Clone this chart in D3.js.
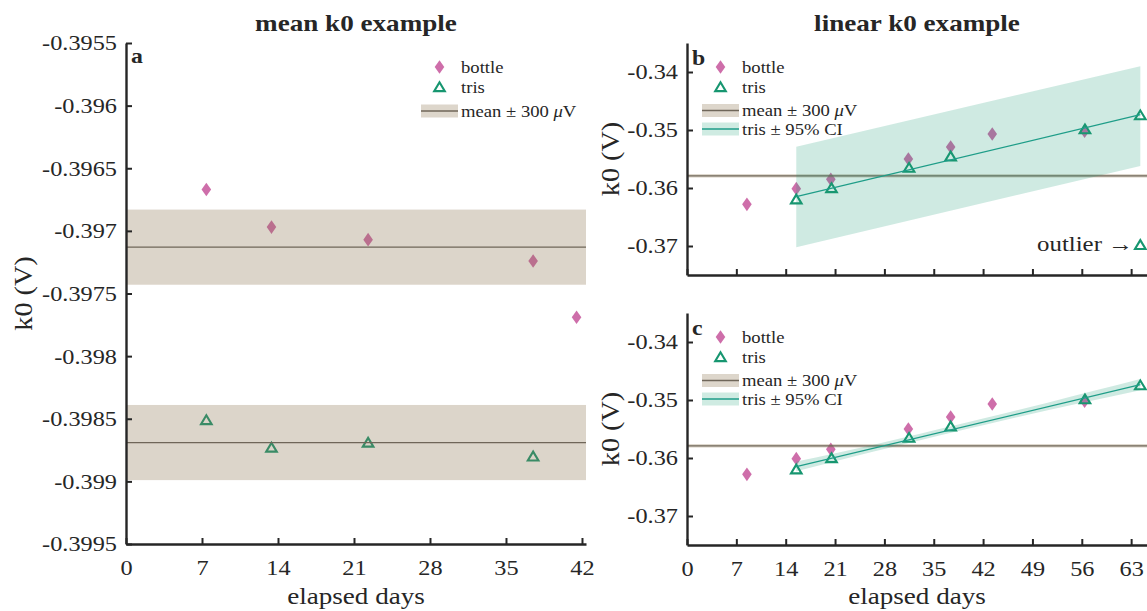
<!DOCTYPE html>
<html><head><meta charset="utf-8">
<script src="https://cdn.jsdelivr.net/npm/d3@7"></script>
<style>
body{margin:0;background:#fff}
svg{display:block}
text{font-family:"Liberation Serif","Times New Roman",Times,serif;fill:#262626}
</style>
</head><body><svg id="c" width="1147" height="611"></svg>
<script>
// ---------- data ----------
// panel a : mean k0 example
const aBottleDays = [7.4, 13.4, 22.3, 37.5, 41.5];
const aBottleK0   = [-0.39667, -0.39697, -0.39707, -0.39724, -0.39769];
const aTrisDays   = [7.4, 13.4, 22.3, 37.5];
const aTrisK0     = [-0.39851, -0.39873, -0.39869, -0.39880];
const aMeans      = [-0.39713, -0.39869];
const bandHalf    = 0.0003;               // ± 300 µV
const aXTicks     = [0, 7, 14, 21, 28, 35, 42];
const aYTicks     = [-0.3955, -0.396, -0.3965, -0.397, -0.3975, -0.398, -0.3985, -0.399, -0.3995];
const aYTickLabels= ["-0.3955", "-0.396", "-0.3965", "-0.397", "-0.3975", "-0.398", "-0.3985", "-0.399", "-0.3995"];

// panels b and c : linear k0 example
const bcBottleDays = [8.5, 15.5, 20.4, 31.4, 37.4, 43.3, 56.4];
const bcBottleK0   = [-0.36282, -0.36011, -0.35851, -0.35500, -0.35293, -0.35069, -0.35020];
const bcTrisDays   = [15.5, 20.5, 31.5, 37.4, 56.45, 64.3];
const bcTrisK0     = [-0.36195, -0.36000, -0.35649, -0.35454, -0.34986, -0.34745];
const outlierDays  = [64.3];
const outlierK0    = [-0.36980];
const bcMean       = -0.3579;
const fitDays      = [15.5, 64.3];
const fitK0        = [-0.36150, -0.34735];
// panel b: wide band
const bBandDays    = [15.5, 64.3];
const bBandHigh    = [-0.3529, -0.3390];
const bBandLow     = [-0.3702, -0.3562];
// panel c: narrow 95% CI
const cBandDays    = [15.5, 26.5, 37.6, 51.0, 64.3];
const cBandHigh    = [-0.3606, -0.3577, -0.3545, -0.3505, -0.3464];
const cBandLow     = [-0.3623, -0.3589, -0.3556, -0.3518, -0.3483];
const bcXTicks     = [0, 7, 14, 21, 28, 35, 42, 49, 56, 63];
const bcYTicks     = [-0.34, -0.35, -0.36, -0.37];
const bcYTickLabels= ["-0.34", "-0.35", "-0.36", "-0.37"];

// ---------- style ----------
const SX = 1.13;                  // glyph widening of the reference serif
const PINK = "#ce6eaa", GREEN = "#179670", TEAL = "#1e9d88";
const TAN_BAND = "rgba(140,116,80,0.30)", TAN_SOLID = "#ddd6cb", MEAN_LINE = "#6f6659";
const TEAL_BAND = "rgba(27,158,119,0.21)", TEAL_SOLID = "#cfebe2";
const AXIS = "#262626";
const diamondPath = "M0,-6.8L4.8,0L0,6.8L-4.8,0Z";
const triPath = "M0,-4.7L5.3,4.1L-5.3,4.1Z";

const svg = d3.select("#c");

function txt(g, x, y, s, size, opts = {}) {
  const t = g.append("text")
    .attr("transform", `translate(${x},${y}) rotate(${opts.rot || 0}) scale(${SX},1)`)
    .attr("font-size", size)
    .attr("text-anchor", opts.anchor || "start");
  if (opts.bold) t.attr("font-weight", "bold");
  if (opts.mu) {
    t.append("tspan").text(s);
    t.append("tspan").attr("font-style", "italic").text("\u03bc");
    t.append("tspan").text("V");
  } else t.text(s);
  return t;
}

function zip(a, b) { return a.map((d, i) => [d, b[i]]); }

function drawMarkers(g, x, y, days, vals, path, color, filled) {
  g.selectAll(null).data(zip(days, vals)).join("path")
    .attr("d", path)
    .attr("transform", d => `translate(${x(d[0])},${y(d[1])})`)
    .attr("fill", filled ? color : "none")
    .attr("stroke", filled ? "none" : color)
    .attr("stroke-width", filled ? 0 : 2.1)
    .attr("stroke-linejoin", "miter");
}

function axes(g, x, y, o) {
  const xa = d3.axisBottom(x).tickValues(o.xTicks).tickSizeInner(-6).tickSizeOuter(0)
    .tickPadding(16).tickFormat(o.xLabels ? d3.format("d") : () => "");
  const gx = g.append("g").attr("transform", `translate(0,${o.bottom})`).call(xa)
    .attr("font-family", null).attr("font-size", null);
  const ya = d3.axisLeft(y).tickValues(o.yTicks).tickSizeInner(-6).tickSizeOuter(0)
    .tickPadding(8).tickFormat((d, i) => o.yLabels[i]);
  const gy = g.append("g").attr("transform", `translate(${o.left},0)`).call(ya)
    .attr("font-family", null).attr("font-size", null);
  [gx, gy].forEach(a => {
    a.select(".domain").attr("stroke", AXIS).attr("stroke-width", 2.4);
    a.selectAll(".tick line").attr("stroke", AXIS).attr("stroke-width", 2);
    a.selectAll(".tick text").attr("fill", AXIS).attr("font-size", 21.5)
      .attr("transform", `scale(${SX},1)`);
  });
}

function legend(g, o) {
  const px0 = o.patchX, px1 = o.patchX + 37, mx = o.patchX + 18.5, tx = o.patchX + 40;
  o.rows.forEach(r => {
    if (r.type === "diamond") {
      g.append("path").attr("d", diamondPath).attr("transform", `translate(${mx},${r.y})`).attr("fill", PINK);
    } else if (r.type === "tri") {
      g.append("path").attr("d", triPath).attr("transform", `translate(${mx},${r.y})`)
        .attr("fill", "none").attr("stroke", GREEN).attr("stroke-width", 2.1);
    } else {
      const fill = r.type === "mean" ? TAN_SOLID : TEAL_SOLID;
      const line = r.type === "mean" ? MEAN_LINE : TEAL;
      g.append("rect").attr("x", px0).attr("y", r.y - 6.5).attr("width", 37).attr("height", 13).attr("fill", fill);
      g.append("line").attr("x1", px0).attr("x2", px1).attr("y1", r.y).attr("y2", r.y)
        .attr("stroke", line).attr("stroke-width", 1.5);
    }
    txt(g, tx, r.y + 5.5, r.label, 16.5, { mu: r.mu });
  });
}

// ---------- panel a ----------
{
  const o = { left: 126, right: 586, top: 43, bottom: 544 };
  const x = d3.scaleLinear().domain([0, 42.37]).range([o.left, o.right]);
  const y = d3.scaleLinear().domain([-0.3995, -0.3955]).range([o.bottom, o.top]);
  const g = svg.append("g");
  drawMarkers(g, x, y, aBottleDays, aBottleK0, diamondPath, PINK, true);
  drawMarkers(g, x, y, aTrisDays, aTrisK0, triPath, GREEN, false);
  aMeans.forEach(m => {
    g.append("rect").attr("x", x(0)).attr("width", x(42.37) - x(0))
      .attr("y", y(m + bandHalf)).attr("height", y(m - bandHalf) - y(m + bandHalf))
      .attr("fill", TAN_BAND);
    g.append("line").attr("x1", x(0)).attr("x2", x(42.37)).attr("y1", y(m)).attr("y2", y(m))
      .attr("stroke", MEAN_LINE).attr("stroke-width", 1.3);
  });
  axes(g, x, y, { ...o, xTicks: aXTicks, yTicks: aYTicks, yLabels: aYTickLabels, xLabels: true });
  txt(g, 131, 63, "a", 21, { bold: true });
  legend(g, { patchX: 421, rows: [
    { type: "diamond", y: 67, label: "bottle" },
    { type: "tri", y: 87, label: "tris" },
    { type: "mean", y: 111, label: "mean \u00b1 300 ", mu: true } ] });
  txt(g, (o.left + o.right) / 2, 31, "mean k0 example", 24, { bold: true, anchor: "middle" });
  txt(g, (o.left + o.right) / 2, 604, "elapsed days", 24, { anchor: "middle" });
  txt(g, 32, (o.top + o.bottom) / 2, "k0 (V)", 25, { anchor: "middle", rot: -90 });
}

// ---------- panels b and c ----------
function linearPanel(o) {
  const x = d3.scaleLinear().domain([0, 65.25]).range([o.left, o.right]);
  const y = d3.scaleLinear().domain([-0.375, -0.335]).range([o.bottom, o.top]);
  const g = svg.append("g");
  drawMarkers(g, x, y, bcBottleDays, bcBottleK0, diamondPath, PINK, true);
  drawMarkers(g, x, y, bcTrisDays, bcTrisK0, triPath, GREEN, false);
  if (o.outlier) drawMarkers(g, x, y, outlierDays, outlierK0, triPath, GREEN, false);
  // mean band
  g.append("rect").attr("x", x(0)).attr("width", x(65.25) - x(0))
    .attr("y", y(bcMean + bandHalf)).attr("height", y(bcMean - bandHalf) - y(bcMean + bandHalf))
    .attr("fill", TAN_BAND);
  g.append("line").attr("x1", x(0)).attr("x2", x(65.25)).attr("y1", y(bcMean)).attr("y2", y(bcMean))
    .attr("stroke", MEAN_LINE).attr("stroke-width", 1.2);
  // CI band
  const area = d3.area().x(d => x(d[0])).y0(d => y(d[1])).y1(d => y(d[2]))
    .curve(o.bandDays.length > 2 ? d3.curveNatural : d3.curveLinear);
  g.append("path").datum(o.bandDays.map((d, i) => [d, o.bandLow[i], o.bandHigh[i]]))
    .attr("d", area).attr("fill", TEAL_BAND);
  g.append("path").datum(zip(fitDays, fitK0))
    .attr("d", d3.line().x(d => x(d[0])).y(d => y(d[1])))
    .attr("stroke", TEAL).attr("stroke-width", 1.2).attr("fill", "none");
  axes(g, x, y, { ...o, xTicks: bcXTicks, yTicks: bcYTicks, yLabels: bcYTickLabels, xLabels: o.xLabels });
  txt(g, 692, o.top + 22, o.letter, 21, { bold: true });
  legend(g, { patchX: 702, rows: [
    { type: "diamond", y: o.top + 24, label: "bottle" },
    { type: "tri", y: o.top + 44, label: "tris" },
    { type: "mean", y: o.top + 67.5, label: "mean \u00b1 300 ", mu: true },
    { type: "ci", y: o.top + 86, label: "tris \u00b1 95% CI" } ] });
  txt(g, 619, (o.top + o.bottom) / 2, "k0 (V)", 25, { anchor: "middle", rot: -90 });
  if (o.outlier) txt(g, 1133, 251, "outlier \u2192", 22, { anchor: "end" });
  return g;
}

linearPanel({ left: 687, right: 1147, top: 43, bottom: 275, letter: "b", outlier: true, xLabels: false,
  bandDays: bBandDays, bandHigh: bBandHigh, bandLow: bBandLow });
linearPanel({ left: 687, right: 1147, top: 313, bottom: 545, letter: "c", outlier: false, xLabels: true,
  bandDays: cBandDays, bandHigh: cBandHigh, bandLow: cBandLow });
txt(svg, 917, 31, "linear k0 example", 24, { bold: true, anchor: "middle" });
txt(svg, 917, 604, "elapsed days", 24, { anchor: "middle" });
</script>
</body></html>
